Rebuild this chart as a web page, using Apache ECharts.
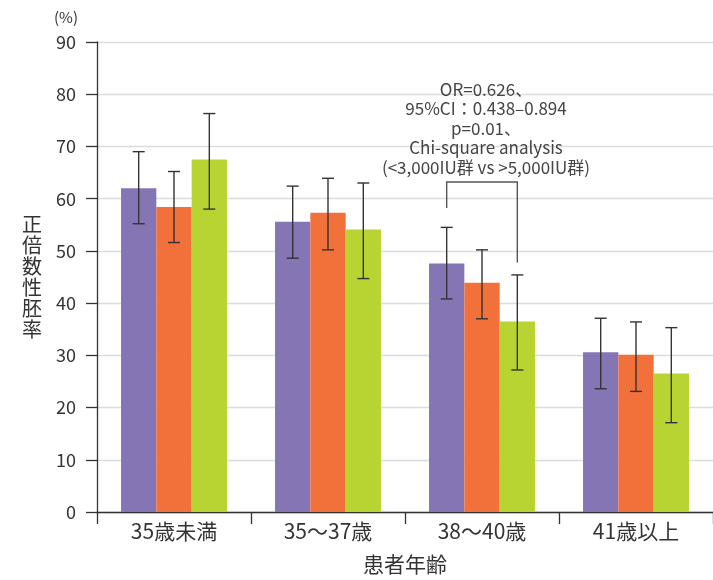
<!DOCTYPE html>
<html><head><meta charset="utf-8">
<script src="https://cdn.jsdelivr.net/npm/echarts@6/dist/echarts.min.js"></script>
<style>html,body{margin:0;padding:0;background:#fff}#c{width:713px;height:580px}</style>
</head><body><div id="c"></div>
<script>
const categories = ['35歳未満', '35～37歳', '38～40歳', '41歳以上'];
const seriesNames = ['A', 'B', 'C'];
const valuesA = [62.0, 55.6, 47.6, 30.6];
const valuesB = [58.4, 57.3, 43.9, 30.1];
const valuesC = [67.5, 54.1, 36.5, 26.5];
const errLowA = [55.2, 48.6, 40.8, 23.6];
const errHighA = [69.0, 62.4, 54.5, 37.1];
const errLowB = [51.6, 50.2, 37.0, 23.1];
const errHighB = [65.2, 63.9, 50.2, 36.4];
const errLowC = [58.0, 44.7, 27.2, 17.1];
const errHighC = [76.3, 63.0, 45.4, 35.3];
const yTicks = [0, 10, 20, 30, 40, 50, 60, 70, 80, 90];
// bracket: category index, left end, top, right end
const bracket = [2, 58.2, 63.2, 47.8];
const annotationLines = ['OR=0.626、', '95%CI：0.438–0.894', 'p=0.01、', 'Chi-square analysis', '(<3,000IU群 vs >5,000IU群)'];

const colors = ['#8675B5', '#F2703A', '#B8D432'];
const FONT = '"Noto Sans CJK JP", "Noto Sans", sans-serif';
const GAP = 0.312;

function barOffset(api, idx) {
  const band = api.size([1, 0])[0];
  const bw = band * (1 - GAP) / 3;
  return (idx - 1) * bw;
}

function errSeries(idx, lows, highs) {
  return {
    type: 'custom',
    z: 5,
    data: categories.map((c, i) => [i, lows[i], highs[i]]),
    renderItem: function (params, api) {
      const off = barOffset(api, idx);
      const lo = api.coord([api.value(0), api.value(1)]);
      const hi = api.coord([api.value(0), api.value(2)]);
      const x = lo[0] + off;
      const cap = 6;
      const st = { stroke: '#333', lineWidth: 1.4 };
      return {
        type: 'group',
        children: [
          { type: 'line', shape: { x1: x, y1: lo[1], x2: x, y2: hi[1] }, style: st },
          { type: 'line', shape: { x1: x - cap, y1: lo[1], x2: x + cap, y2: lo[1] }, style: st },
          { type: 'line', shape: { x1: x - cap, y1: hi[1], x2: x + cap, y2: hi[1] }, style: st }
        ]
      };
    }
  };
}

const chart = echarts.init(document.getElementById('c'), null, { renderer: 'canvas' });
chart.setOption({
  animation: false,
  textStyle: { fontFamily: FONT },
  grid: { left: 97, width: 620, top: 42, height: 476, containLabel: false },
  xAxis: {
    type: 'category',
    data: categories,
    name: '患者年齢',
    nameLocation: 'middle',
    nameGap: 42,
    nameTextStyle: { fontSize: 21, color: '#333', fontFamily: FONT },
    axisLine: { lineStyle: { color: '#333', width: 1.3 } },
    axisTick: { show: true, length: 12, lineStyle: { color: '#333', width: 1.3 } },
    axisLabel: { fontSize: 21, color: '#333', margin: 9, fontFamily: FONT }
  },
  yAxis: {
    type: 'value',
    min: yTicks[0],
    max: yTicks[yTicks.length - 1],
    interval: 10,
    name: '正\n倍\n数\n性\n胚\n率',
    nameLocation: 'middle',
    nameRotate: 0,
    nameGap: 55,
    nameTextStyle: { fontSize: 20, color: '#333', lineHeight: 21, fontFamily: FONT },
    axisLine: { show: true, lineStyle: { color: '#333', width: 1.3 } },
    axisTick: { show: true, length: 11, lineStyle: { color: '#333', width: 1.3 } },
    axisLabel: { fontSize: 18, color: '#333', margin: 21, fontFamily: FONT },
    splitLine: { lineStyle: { color: '#dcdcdc', width: 1.3 } }
  },
  graphic: [{
    type: 'text', left: 54, top: 10,
    style: { text: '(%)', fontSize: 15, fill: '#333', fontFamily: FONT }
  }],
  series: [
    { name: seriesNames[0], type: 'bar', data: valuesA, itemStyle: { color: colors[0] }, barGap: '0%', barCategoryGap: (GAP * 100) + '%' },
    { name: seriesNames[1], type: 'bar', data: valuesB, itemStyle: { color: colors[1] }, barGap: '0%', barCategoryGap: (GAP * 100) + '%' },
    { name: seriesNames[2], type: 'bar', data: valuesC, itemStyle: { color: colors[2] }, barGap: '0%', barCategoryGap: (GAP * 100) + '%' },
    errSeries(0, errLowA, errHighA),
    errSeries(1, errLowB, errHighB),
    errSeries(2, errLowC, errHighC),
    {
      type: 'custom',
      z: 6,
      data: [bracket],
      renderItem: function (params, api) {
        const ci = api.value(0);
        const pL = api.coord([ci, api.value(1)]);
        const pT = api.coord([ci, api.value(2)]);
        const pR = api.coord([ci, api.value(3)]);
        const xl = pL[0] + barOffset(api, 0);
        const xr = pL[0] + barOffset(api, 2);
        const st = { stroke: '#555', lineWidth: 1.4, fill: null };
        return {
          type: 'group',
          children: [
            { type: 'polyline', shape: { points: [[xl, pL[1]], [xl, pT[1]], [xr, pT[1]], [xr, pR[1]]] }, style: st },
            { type: 'text', x: (xl + xr) / 2 + 4, y: pT[1] - 5,
              style: { text: annotationLines.join('\n'), fontSize: 17, lineHeight: 19.5, fill: '#444',
                       align: 'center', verticalAlign: 'bottom', fontFamily: FONT } }
          ]
        };
      }
    }
  ]
});
</script>
</body></html>
